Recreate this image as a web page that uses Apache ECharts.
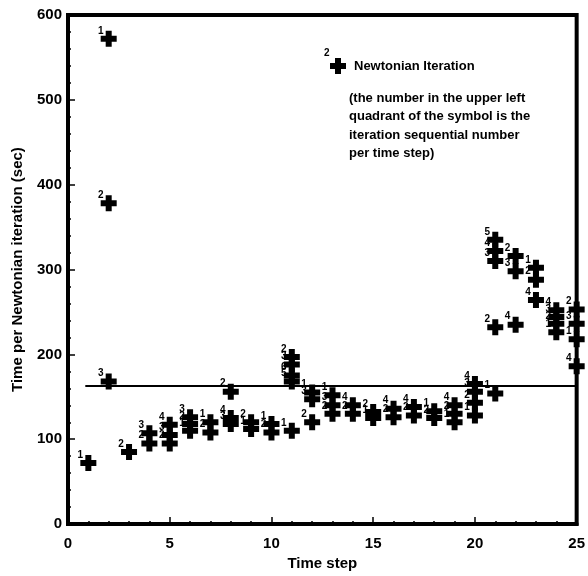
<!DOCTYPE html>
<html>
<head>
<meta charset="utf-8">
<script src="https://cdn.jsdelivr.net/npm/echarts@6/dist/echarts.min.js"></script>
<style>
html,body{margin:0;padding:0;background:#fff;}
#chart{width:588px;height:576px;}
</style>
</head>
<body>
<div id="chart"></div>
<script>
// Time step of each Newtonian iteration
const timeSteps = [
  1,
  2, 2, 2,
  3,
  4, 4,
  5, 5, 5,
  6, 6, 6,
  7, 7,
  8, 8, 8,
  9, 9,
  10, 10,
  11, 11, 11, 11, 11,
  12, 12, 12,
  13, 13, 13,
  14, 14,
  15, 15,
  16, 16,
  17, 17,
  18, 18,
  19, 19, 19,
  20, 20, 20, 20,
  21, 21, 21, 21, 21,
  22, 22, 22,
  23, 23, 23,
  24, 24, 24, 24,
  25, 25, 25, 25
];
// Time per Newtonian iteration (sec)
const iterTimes = [
  72,
  572, 378, 168,
  85,
  107, 95,
  117, 105, 95,
  126, 118, 110,
  120, 108,
  156, 125, 118,
  120, 112,
  118, 108,
  197, 188, 175, 168, 110,
  155, 147, 120,
  152, 140, 130,
  140, 130,
  132, 125,
  136, 126,
  138, 128,
  133, 125,
  140, 130, 120,
  165, 156, 143, 128,
  335, 322, 310, 232, 154,
  316, 298, 235,
  302, 288, 264,
  252, 244, 236, 226,
  253, 236, 218, 186
];
// Iteration sequential number within the time step
const iterNumbers = [
  1,
  1, 2, 3,
  2,
  3, 2,
  4, 3, 2,
  3, 2, 1,
  1, 2,
  2, 4, 3,
  2, 1,
  1, 2,
  2, 3, 6, 5, 1,
  1, 3, 2,
  1, 3, 2,
  4, 2,
  2, 1,
  4, 2,
  4, 2,
  1, 2,
  4, 2, 1,
  4, 3, 2, 1,
  5, 4, 3, 2, 1,
  2, 3, 4,
  1, 2, 4,
  4, 3, 2, 1,
  2, 3, 1, 4
];
// Reference level line
const refLevel = 163;
const refStart = 0.85;
const refEnd = 25;
const xTicks = [0, 5, 10, 15, 20, 25];
const yTicks = [0, 100, 200, 300, 400, 500, 600];
const seriesName = 'Newtonian Iteration';
const noteLines = [
  '(the number in the upper left',
  'quadrant of the symbol is the',
  'iteration sequential number',
  'per time step)'
];

const plusPath = 'path://M5,0 H11 V5 H16 V11 H11 V16 H5 V11 H0 V5 H5 Z';
const FONT = '"Liberation Sans", Arial, Helvetica, sans-serif';

const points = timeSteps.map((s, i) => ({
  value: [s, iterTimes[i]],
  label: { formatter: String(iterNumbers[i]) }
}));

const chart = echarts.init(document.getElementById('chart'), null, { renderer: 'canvas' });
chart.setOption({
  backgroundColor: '#ffffff',
  animation: false,
  textStyle: { fontFamily: FONT, color: '#000' },
  grid: {
    left: 68, right: 8, top: 15, bottom: 47,
    show: true, borderColor: '#000', borderWidth: 4, backgroundColor: 'transparent'
  },
  legend: {
    data: [seriesName],
    left: 325, top: 53,
    icon: plusPath,
    itemWidth: 16, itemHeight: 16, itemGap: 4,
    textStyle: { fontFamily: FONT, fontSize: 13, fontWeight: 'bold', color: '#000', padding: [0, 0, 0, 3] }
  },
  xAxis: {
    type: 'value',
    min: xTicks[0], max: xTicks[xTicks.length - 1], interval: 5,
    name: 'Time step', nameLocation: 'middle', nameGap: 31,
    nameTextStyle: { fontFamily: FONT, fontSize: 15, fontWeight: 'bold', color: '#000' },
    axisLine: { show: true, lineStyle: { color: '#000', width: 4 } },
    axisTick: { show: true, inside: true, length: 7, lineStyle: { color: '#000', width: 1.5 } },
    minorTick: { show: true, splitNumber: 5, length: 3, lineStyle: { color: '#000', width: 1.5 } },
    axisLabel: { fontFamily: FONT, fontSize: 15, fontWeight: 'bold', color: '#000', margin: 12 },
    splitLine: { show: false }
  },
  yAxis: {
    type: 'value',
    min: yTicks[0], max: yTicks[yTicks.length - 1], interval: 100,
    name: 'Time per Newtonian iteration (sec)', nameLocation: 'middle', nameGap: 43,
    nameTextStyle: { fontFamily: FONT, fontSize: 15, fontWeight: 'bold', color: '#000' },
    axisLine: { show: true, lineStyle: { color: '#000', width: 4 } },
    axisTick: { show: true, inside: true, length: 7, lineStyle: { color: '#000', width: 1.5 } },
    minorTick: { show: true, splitNumber: 5, length: 3, lineStyle: { color: '#000', width: 1.5 } },
    axisLabel: { fontFamily: FONT, fontSize: 15, fontWeight: 'bold', color: '#000', margin: 6 },
    splitLine: { show: false }
  },
  series: [{
    name: seriesName,
    type: 'scatter',
    symbol: plusPath,
    symbolSize: 16,
    clip: false,
    itemStyle: { color: '#000', opacity: 1 },
    label: {
      show: true,
      position: [0, 0],
      align: 'center',
      verticalAlign: 'middle',
      fontFamily: FONT, fontSize: 10, fontWeight: 'bold', color: '#000'
    },
    emphasis: { disabled: true },
    data: points,
    markLine: {
      silent: true,
      symbol: 'none',
      label: { show: false },
      lineStyle: { color: '#000', width: 2, type: 'solid' },
      data: [[{ coord: [refStart, refLevel] }, { coord: [refEnd, refLevel] }]]
    },
    z: 3
  }],
  graphic: [
    {
      type: 'text', left: 324, top: 48,
      style: { text: '2', font: 'bold 10px ' + FONT, fill: '#000' }, z: 10
    },
    {
      type: 'text', left: 349, top: 89,
      style: { text: noteLines.join('\n'), font: 'bold 13px ' + FONT, lineHeight: 18.5, fill: '#000' }
    }
  ]
});
</script>
</body>
</html>
